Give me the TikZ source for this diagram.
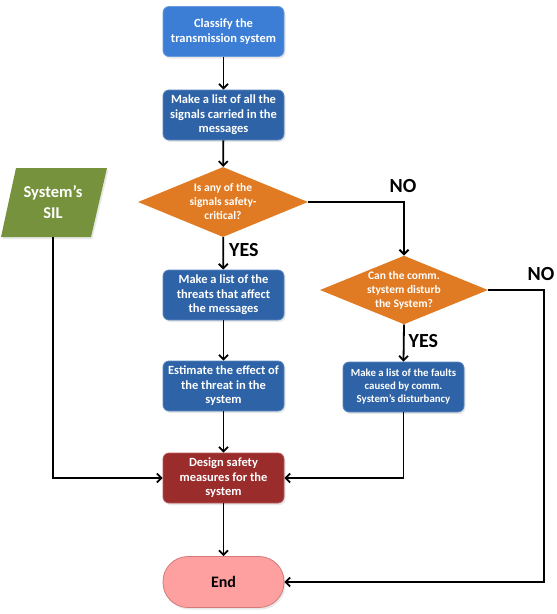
\documentclass[tikz,border=0pt]{standalone}
\usepackage{fontspec}
\setmainfont{Carlito}
\usetikzlibrary{arrows.meta,shapes.geometric,shadows}
\definecolor{bluelight}{HTML}{3C7ED6}
\definecolor{bluelightb}{HTML}{6A9BE0}
\definecolor{bluedark}{HTML}{2E64A7}
\definecolor{bluedarkb}{HTML}{5A86BE}
\definecolor{designred}{HTML}{9B2C2C}
\definecolor{designredb}{HTML}{BA5A5A}
\definecolor{endpink}{HTML}{FFA0A0}
\definecolor{endpinkb}{HTML}{D47A7A}
\definecolor{decorange}{HTML}{E07B23}
\definecolor{silgreen}{HTML}{76923C}
\tikzset{
  boxbase/.style={rectangle, rounded corners=6pt, minimum width=121pt, minimum height=50pt,
    inner sep=2pt, align=center, text=white, font=\bfseries\fontsize{12.5}{14.5}\selectfont,
    line width=0.8pt, drop shadow={opacity=0.18, shadow xshift=1.5pt, shadow yshift=-2pt}},
  boxlight/.style={boxbase, fill=bluelight, draw=bluelightb},
  boxdark/.style={boxbase, fill=bluedark, draw=bluedarkb},
  boxred/.style={boxbase, fill=designred, draw=designredb},
  endbox/.style={rectangle, rounded corners=25pt, minimum width=121pt, minimum height=51pt,
    fill=endpink, draw=endpinkb, line width=0.8pt, text=black,
    font=\bfseries\fontsize{16}{18}\selectfont,
    drop shadow={opacity=0.18, shadow xshift=1.5pt, shadow yshift=-2pt}},
  decision/.style={diamond, aspect=2.4, inner sep=0pt, minimum width=170pt, minimum height=70pt,
    fill=decorange, text=white, align=center, font=\bfseries\fontsize{11.5}{14}\selectfont},
  flow/.style={line width=1.8pt, -{Straight Barb[length=4.5pt,width=9pt,line width=1.8pt]}},
  lbl/.style={font=\bfseries\fontsize{20}{22}\selectfont, text=black, inner sep=0pt}
}
\begin{document}
\begin{tikzpicture}[x=1pt,y=-1pt]
\useasboundingbox (0,0) rectangle (557,614);
% boxes
\node[boxlight] (c1) at (223.5,31.5) {Classify the\\transmission system};
\node[boxdark] (c2) at (223.5,115) {Make a list of all the\\signals carried in the\\messages};
\node[decision] (d1) at (223,202) {Is any of the\\signals safety-\\critical?};
\node[boxdark] (c3) at (223.5,295) {Make a list of the\\threats that affect\\the messages};
\node[boxdark] (c4) at (223.5,386) {Estimate the effect of\\the threat in the\\system};
\node[boxred] (ds) at (223.5,478) {Design safety\\measures for the\\system};
\node[endbox] (e) at (223.5,582) {End};
\node[decision, minimum width=168pt, minimum height=66pt] (d2) at (404,290) {Can the comm.\\stystem disturb\\the System?};
\node[boxdark, font=\bfseries\fontsize{10.8}{13}\selectfont] (c5) at (403.5,387) {Make a list of the faults\\caused by comm.\\System's disturbancy};
% SIL parallelogram
\fill[silgreen, drop shadow={opacity=0.18, shadow xshift=1.5pt, shadow yshift=-2pt}]
  (16,168) -- (107,168) -- (91,237) -- (1,237) -- cycle;
\node[minimum height=69pt, inner sep=0pt, align=center, text=white,
  font=\bfseries\fontsize{16.5}{21}\selectfont] (sil) at (53,202.5) {System's\\SIL};
% connectors
\draw[flow] (c1) -- (c2);
\draw[flow] (c2) -- (d1);
\draw[flow] (d1) -- node[lbl, right=5pt, pos=0.4] (yes1) {YES} (c3);
\draw[flow] (c3) -- (c4);
\draw[flow] (c4) -- (ds);
\draw[flow] (ds) -- (e);
\coordinate (n1) at (404,202);
\draw[flow] (d1.east) -- (n1) -- (d2.north);
\node[lbl] (no1) at (403,186) {NO};
\draw[flow] (d2.south) -- node[lbl, right=4pt, pos=0.45] (yes2) {YES} (c5.north);
\coordinate (n2) at (544,290);
\draw[flow] (d2.east) -- (n2) |- (e.east);
\node[lbl] (no2) at (541,274) {NO};
\draw[flow] (c5.south) |- (ds.east);
\draw[flow] (sil.south) |- (ds.west);
\end{tikzpicture}
\end{document}
